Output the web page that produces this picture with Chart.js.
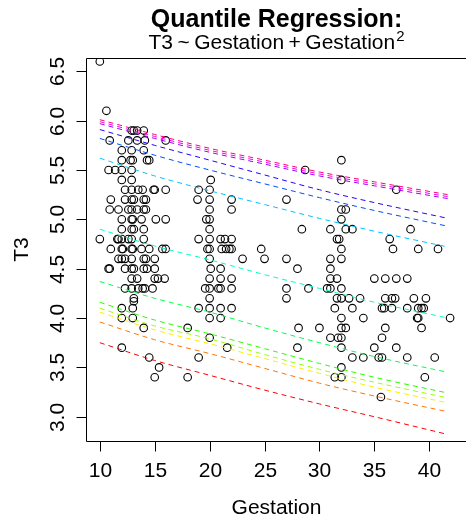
<!DOCTYPE html>
<html><head><meta charset="utf-8">
<script src="https://cdn.jsdelivr.net/npm/chart.js@4.4.1/dist/chart.umd.min.js"></script>
<style>html,body{margin:0;padding:0;background:#fff;overflow:hidden}canvas{display:block}</style>
</head><body>
<canvas id="c" width="466" height="517"></canvas>
<script>
// ---- scatter data (Gestation, T3), grouped by T3 level ----
const gestation = [
  10.0,
  10.6,
  12.9,13.1,13.4,14.0,
  10.9,12.6,13.4,14.1,16.0,
  12.0,12.9,14.0,
  12.0,12.8,13.0,14.3,14.5,32.0,
  10.8,11.4,12.0,12.9,28.7,
  12.0,12.9,20.1,32.0,
  12.3,12.9,13.5,13.9,14.9,15.0,16.0,19.0,20.0,37.0,
  11.0,12.3,12.9,13.1,14.0,14.2,18.9,20.0,22.0,27.0,
  10.9,11.7,12.6,12.9,13.4,14.0,14.2,20.0,22.0,32.0,32.4,
  12.0,12.9,13.0,13.8,15.1,16.0,19.7,20.0,32.0,
  12.0,12.9,13.1,14.0,20.0,28.4,31.0,32.4,33.0,38.3,
  10.0,11.6,11.7,12.0,12.6,12.9,14.0,19.0,20.0,21.0,21.4,22.0,31.6,31.8,36.4,
  11.0,12.0,12.1,12.9,13.0,13.8,14.5,15.7,16.0,19.8,20.0,21.1,21.5,21.8,22.0,24.7,32.0,36.7,39.0,40.8,
  11.7,12.0,12.3,12.9,14.0,14.2,15.0,20.0,23.0,25.0,27.0,31.0,32.0,
  10.8,10.9,12.3,12.9,13.1,14.0,14.3,15.0,20.1,21.0,28.0,31.0,
  12.9,13.4,15.0,15.3,15.9,20.0,21.0,22.0,31.0,31.6,35.0,36.0,37.0,38.0,
  12.3,12.9,13.5,13.9,14.1,14.8,19.6,20.0,20.8,21.0,22.0,27.0,29.0,30.7,31.0,32.0,
  13.1,20.0,27.0,31.6,32.0,32.7,33.7,36.0,36.6,36.9,38.6,39.7,
  13.1,
  12.0,13.0,19.0,20.0,21.0,22.0,31.4,33.0,35.7,35.9,36.6,38.0,39.0,39.3,39.5,
  12.0,13.0,20.0,21.0,32.0,34.0,38.9,39.0,41.9,
  14.0,18.0,28.1,30.0,32.0,32.4,36.0,39.3,
  20.0,31.0,31.7,32.0,35.7,
  12.0,21.6,28.0,32.0,35.0,37.0,
  14.5,19.0,33.0,34.0,35.4,35.7,38.0,40.5,
  15.4,32.0,
  15.0,18.0,31.4,32.0,39.6,
  35.6
];
const t3 = [
  6.6,
  6.1,
  5.9,5.9,5.9,5.9,
  5.8,5.8,5.8,5.8,5.8,
  5.7,5.7,5.7,
  5.6,5.6,5.6,5.6,5.6,5.6,
  5.5,5.5,5.5,5.5,5.5,
  5.4,5.4,5.4,5.4,
  5.3,5.3,5.3,5.3,5.3,5.3,5.3,5.3,5.3,5.3,
  5.2,5.2,5.2,5.2,5.2,5.2,5.2,5.2,5.2,5.2,
  5.1,5.1,5.1,5.1,5.1,5.1,5.1,5.1,5.1,5.1,5.1,
  5.0,5.0,5.0,5.0,5.0,5.0,5.0,5.0,5.0,
  4.9,4.9,4.9,4.9,4.9,4.9,4.9,4.9,4.9,4.9,
  4.8,4.8,4.8,4.8,4.8,4.8,4.8,4.8,4.8,4.8,4.8,4.8,4.8,4.8,4.8,
  4.7,4.7,4.7,4.7,4.7,4.7,4.7,4.7,4.7,4.7,4.7,4.7,4.7,4.7,4.7,4.7,4.7,4.7,4.7,4.7,
  4.6,4.6,4.6,4.6,4.6,4.6,4.6,4.6,4.6,4.6,4.6,4.6,4.6,
  4.5,4.5,4.5,4.5,4.5,4.5,4.5,4.5,4.5,4.5,4.5,4.5,
  4.4,4.4,4.4,4.4,4.4,4.4,4.4,4.4,4.4,4.4,4.4,4.4,4.4,4.4,
  4.3,4.3,4.3,4.3,4.3,4.3,4.3,4.3,4.3,4.3,4.3,4.3,4.3,4.3,4.3,4.3,
  4.2,4.2,4.2,4.2,4.2,4.2,4.2,4.2,4.2,4.2,4.2,4.2,
  4.17,
  4.1,4.1,4.1,4.1,4.1,4.1,4.1,4.1,4.1,4.1,4.1,4.1,4.1,4.1,4.1,
  4.0,4.0,4.0,4.0,4.0,4.0,4.0,4.0,4.0,
  3.9,3.9,3.9,3.9,3.9,3.9,3.9,3.9,
  3.8,3.8,3.8,3.8,3.8,
  3.7,3.7,3.7,3.7,3.7,3.7,
  3.6,3.6,3.6,3.6,3.6,3.6,3.6,3.6,
  3.5,3.5,
  3.4,3.4,3.4,3.4,3.4,
  3.2
];

// ---- quantile regression curves, read at these gestation values ----
const lineGestation = [10, 15, 20, 25, 30, 35, 41.7];
const qRed     = [3.75, 3.57, 3.42, 3.27, 3.13, 3.00, 2.82];
const qOrange  = [3.96, 3.78, 3.64, 3.49, 3.34, 3.21, 3.05];
const qYellow  = [4.06, 3.88, 3.74, 3.59, 3.44, 3.30, 3.14];
const qChart   = [4.10, 3.92, 3.79, 3.63, 3.48, 3.35, 3.19];
const qGreen   = [4.16, 3.98, 3.84, 3.69, 3.54, 3.40, 3.24];
const qSpring  = [4.37, 4.20, 4.06, 3.90, 3.75, 3.61, 3.45];
const qAqua    = [4.90, 4.73, 4.59, 4.44, 4.30, 4.16, 4.00];
const qSky     = [5.62, 5.44, 5.29, 5.15, 5.01, 4.88, 4.72];
const qBlue    = [5.82, 5.65, 5.50, 5.36, 5.22, 5.09, 4.93];
const qViolet  = [5.91, 5.75, 5.60, 5.45, 5.30, 5.17, 5.01];
const qPurple  = [5.97, 5.82, 5.68, 5.56, 5.44, 5.34, 5.21];
const qMagenta = [5.99, 5.84, 5.70, 5.58, 5.46, 5.36, 5.23];
const qPink    = [6.01, 5.86, 5.72, 5.60, 5.48, 5.38, 5.25];
const lineColors = ['#FF0000','#FF7600','#FFEC00','#9DFF00','#27FF00','#00FF4E','#00FFC4',
                    '#00C4FF','#004EFF','#2700FF','#9D00FF','#FF00EC','#FF0076'];

// ---- axes ----
const xTicks = [10, 15, 20, 25, 30, 35, 40];
const xTickLabels = ['10','15','20','25','30','35','40'];
const yTicks = [3.0, 3.5, 4.0, 4.5, 5.0, 5.5, 6.0, 6.5];
const yTickLabels = ['3.0','3.5','4.0','4.5','5.0','5.5','6.0','6.5'];
const titleText = 'Quantile Regression:';
const xTitle = 'Gestation';
const yTitle = 'T3';

const quantLines = [qRed,qOrange,qYellow,qChart,qGreen,qSpring,qAqua,qSky,qBlue,qViolet,qPurple,qMagenta,qPink];
const datasets = quantLines.map((vals, i) => ({
  type: 'line',
  data: lineGestation.map((g, j) => ({x: g, y: vals[j]})),
  borderColor: lineColors[i],
  borderWidth: 1,
  borderDash: [5, 4],
  pointRadius: 0,
  fill: false,
  cubicInterpolationMode: 'monotone',
  order: 1
}));
datasets.push({
  type: 'scatter',
  data: gestation.map((g, i) => ({x: g, y: t3[i]})),
  pointRadius: 3.8,
  pointBorderColor: '#000',
  pointBackgroundColor: 'rgba(0,0,0,0)',
  pointBorderWidth: 1.1,
  order: 2
});

const FONT = '"Liberation Sans", Arial, sans-serif';
const axesPlugin = {
  id: 'rAxes',
  afterDraw(chart) {
    const ctx = chart.ctx, xs = chart.scales.x, ys = chart.scales.y, a = chart.chartArea;
    ctx.save();
    ctx.strokeStyle = '#000'; ctx.fillStyle = '#000'; ctx.lineWidth = 1;
    const bot = Math.round(a.bottom) + 0.5, left = Math.round(a.left) + 0.5, top = Math.round(a.top) + 0.5;
    ctx.beginPath();
    ctx.moveTo(470, top); ctx.lineTo(left, top); ctx.lineTo(left, bot); ctx.lineTo(470, bot);
    ctx.stroke();
    ctx.font = '21px ' + FONT;
    ctx.textAlign = 'center'; ctx.textBaseline = 'alphabetic';
    xTicks.forEach((t, i) => {
      const px = Math.round(xs.getPixelForValue(t)) + 0.5;
      ctx.beginPath(); ctx.moveTo(px, bot); ctx.lineTo(px, bot + 10); ctx.stroke();
      ctx.fillText(xTickLabels[i], px, 477);
    });
    yTicks.forEach((t, i) => {
      const py = Math.round(ys.getPixelForValue(t)) + 0.5;
      ctx.beginPath(); ctx.moveTo(left, py); ctx.lineTo(left - 10, py); ctx.stroke();
      ctx.save(); ctx.translate(63.5, py); ctx.rotate(-Math.PI / 2);
      ctx.fillText(yTickLabels[i], 0, 0); ctx.restore();
    });
    const cx = (a.left + 467) / 2;
    ctx.fillText(xTitle, cx, 514);
    ctx.save(); ctx.translate(28, (a.top + a.bottom) / 2); ctx.rotate(-Math.PI / 2);
    ctx.fillText(yTitle, 0, 0); ctx.restore();
    // title
    ctx.font = 'bold 25px ' + FONT;
    ctx.fillText(titleText, cx, 27);
    // subtitle: T3 ~ Gestation + Gestation^2
    ctx.font = '21px ' + FONT;
    const parts = ['T3', '~', 'Gestation', '+', 'Gestation'];
    const gap = 4.5;
    ctx.textAlign = 'left';
    const widths = parts.map(p => ctx.measureText(p).width);
    ctx.font = '15px ' + FONT;
    const supW = ctx.measureText('2').width;
    const total = widths.reduce((s, w) => s + w, 0) + gap * (parts.length - 1) + supW + 1;
    let x = cx - total / 2;
    ctx.font = '21px ' + FONT;
    parts.forEach((p, i) => { ctx.fillText(p, x, 49); x += widths[i] + gap; });
    x -= gap;
    ctx.font = '15px ' + FONT;
    ctx.fillText('2', x + 1, 41);
    ctx.restore();
  }
};

new Chart(document.getElementById('c'), {
  type: 'scatter',
  data: { datasets },
  options: {
    responsive: false,
    animation: false,
    devicePixelRatio: 1,
    layout: { padding: { left: 86, top: 58, right: 0, bottom: 76 } },
    plugins: { legend: { display: false }, tooltip: { enabled: false } },
    scales: {
      x: { type: 'linear', min: 8.742, max: 42.885, display: false },
      y: { type: 'linear', min: 2.754, max: 6.635, display: false }
    }
  },
  plugins: [axesPlugin]
});
</script>
</body></html>
